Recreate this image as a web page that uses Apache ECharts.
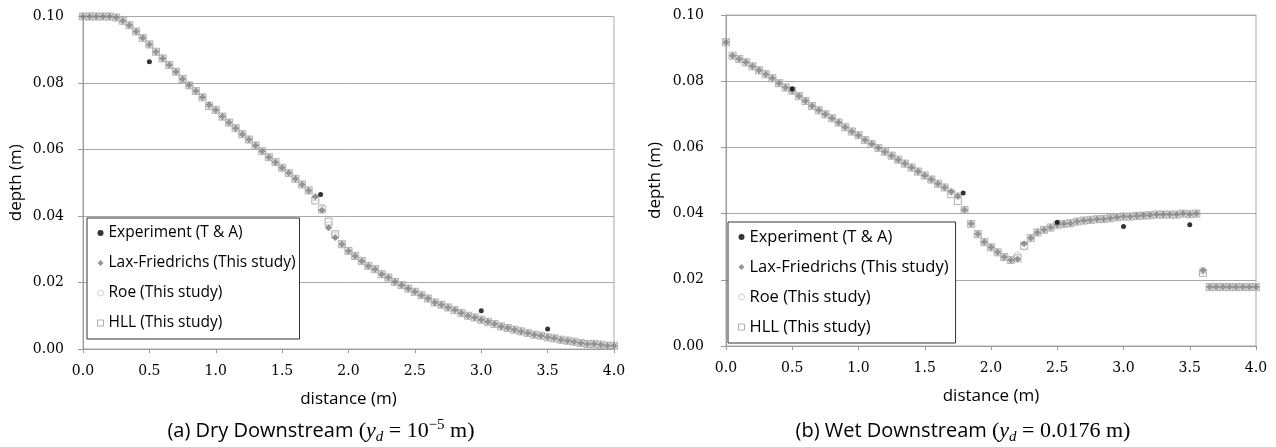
<!DOCTYPE html>
<html><head><meta charset="utf-8">
<script src="https://cdn.jsdelivr.net/npm/echarts@6/dist/echarts.min.js"></script>
<style>html,body{margin:0;padding:0;background:#fff}#c{width:1276px;height:447px}</style>
</head><body><div id="c"></div><script>
// ---------- data ----------
const distance = [0.00,0.05,0.10,0.15,0.20,0.25,0.30,0.35,0.40,0.45,0.50,0.55,0.60,0.65,0.70,0.75,0.80,0.85,0.90,0.95,
1.00,1.05,1.10,1.15,1.20,1.25,1.30,1.35,1.40,1.45,1.50,1.55,1.60,1.65,1.70,1.75,1.80,1.85,1.90,1.95,
2.00,2.05,2.10,2.15,2.20,2.25,2.30,2.35,2.40,2.45,2.50,2.55,2.60,2.65,2.70,2.75,2.80,2.85,2.90,2.95,
3.00,3.05,3.10,3.15,3.20,3.25,3.30,3.35,3.40,3.45,3.50,3.55,3.60,3.65,3.70,3.75,3.80,3.85,3.90,3.95,4.00];

// (a) dry downstream
const dryLF = [0.1000,0.1000,0.1000,0.1000,0.1000,0.0997,0.0987,0.0974,0.0955,0.0935,0.0916,0.0894,0.0874,0.0854,0.0834,0.0812,0.0793,0.0776,0.0757,0.0734,
0.0719,0.0699,0.0681,0.0664,0.0646,0.0630,0.0612,0.0595,0.0577,0.0562,0.0545,0.0529,0.0512,0.0495,0.0477,0.0458,0.0417,0.0365,0.0335,0.0315,
0.0295,0.0280,0.0265,0.0250,0.0240,0.0225,0.0215,0.0202,0.0192,0.0182,0.0172,0.0162,0.0152,0.0140,0.0133,0.0125,0.0117,0.0108,0.0100,0.0095,
0.0088,0.0082,0.0075,0.0068,0.0063,0.0058,0.0053,0.0048,0.0043,0.0040,0.0035,0.0032,0.0028,0.0025,0.0022,0.0018,0.0015,0.0015,0.0013,0.0010,0.0010];
const dryRoe = [0.1000,0.1000,0.1000,0.1000,0.1000,0.0997,0.0987,0.0974,0.0955,0.0935,0.0916,0.0894,0.0874,0.0854,0.0834,0.0812,0.0793,0.0776,0.0757,0.0734,
0.0719,0.0699,0.0681,0.0664,0.0646,0.0630,0.0612,0.0595,0.0577,0.0562,0.0545,0.0529,0.0512,0.0495,0.0477,0.0455,0.0425,0.0372,0.0340,0.0315,
0.0295,0.0280,0.0265,0.0250,0.0240,0.0225,0.0215,0.0202,0.0192,0.0182,0.0172,0.0162,0.0152,0.0140,0.0133,0.0125,0.0117,0.0108,0.0100,0.0095,
0.0088,0.0082,0.0075,0.0068,0.0063,0.0058,0.0053,0.0048,0.0043,0.0040,0.0035,0.0032,0.0028,0.0025,0.0022,0.0018,0.0015,0.0015,0.0013,0.0010,0.0010];
const dryHLL = [0.1000,0.1000,0.1000,0.1000,0.1000,0.0997,0.0987,0.0974,0.0955,0.0935,0.0916,0.0894,0.0874,0.0854,0.0834,0.0812,0.0793,0.0776,0.0757,0.0731,
0.0719,0.0699,0.0681,0.0664,0.0646,0.0630,0.0612,0.0595,0.0577,0.0562,0.0545,0.0529,0.0512,0.0495,0.0477,0.0447,0.0420,0.0383,0.0345,0.0315,
0.0295,0.0280,0.0265,0.0250,0.0240,0.0225,0.0215,0.0202,0.0192,0.0182,0.0172,0.0162,0.0152,0.0140,0.0133,0.0125,0.0117,0.0108,0.0100,0.0095,
0.0088,0.0082,0.0075,0.0068,0.0063,0.0058,0.0053,0.0048,0.0043,0.0040,0.0035,0.0032,0.0028,0.0025,0.0022,0.0018,0.0015,0.0015,0.0013,0.0010,0.0010];
const dryExpX = [0.50, 1.79, 3.00, 3.50];
const dryExpY = [0.0864, 0.0465, 0.0115, 0.0060];

// (b) wet downstream
const wetLF = [0.0918,0.0877,0.0867,0.0857,0.0845,0.0833,0.0821,0.0809,0.0794,0.0781,0.0771,0.0755,0.0740,0.0725,0.0712,0.0700,0.0688,0.0675,0.0661,0.0648,
0.0637,0.0622,0.0610,0.0598,0.0587,0.0575,0.0563,0.0551,0.0539,0.0527,0.0515,0.0503,0.0490,0.0479,0.0466,0.0453,0.0411,0.0369,0.0338,0.0314,
0.0298,0.0283,0.0269,0.0260,0.0263,0.0309,0.0326,0.0343,0.0351,0.0358,0.0366,0.0369,0.0371,0.0376,0.0379,0.0381,0.0383,0.0384,0.0386,0.0389,
0.0391,0.0391,0.0393,0.0394,0.0395,0.0397,0.0397,0.0397,0.0397,0.0400,0.0398,0.0400,0.0228,0.0178,0.0178,0.0178,0.0178,0.0178,0.0178,0.0178,0.0178];
const wetRoe = [0.0918,0.0877,0.0867,0.0857,0.0845,0.0833,0.0821,0.0809,0.0794,0.0781,0.0771,0.0755,0.0740,0.0725,0.0712,0.0700,0.0688,0.0675,0.0661,0.0648,
0.0637,0.0622,0.0610,0.0598,0.0587,0.0575,0.0563,0.0551,0.0539,0.0527,0.0515,0.0503,0.0490,0.0479,0.0466,0.0453,0.0411,0.0369,0.0338,0.0314,
0.0298,0.0283,0.0269,0.0260,0.0273,0.0300,0.0326,0.0343,0.0351,0.0358,0.0366,0.0369,0.0371,0.0376,0.0379,0.0381,0.0383,0.0384,0.0386,0.0389,
0.0391,0.0391,0.0393,0.0394,0.0395,0.0397,0.0397,0.0397,0.0397,0.0400,0.0398,0.0400,0.0228,0.0178,0.0178,0.0178,0.0178,0.0178,0.0178,0.0178,0.0178];
const wetHLL = [0.0918,0.0877,0.0867,0.0857,0.0845,0.0833,0.0821,0.0809,0.0794,0.0781,0.0771,0.0755,0.0740,0.0725,0.0712,0.0700,0.0688,0.0675,0.0661,0.0648,
0.0637,0.0622,0.0610,0.0598,0.0587,0.0575,0.0563,0.0551,0.0539,0.0527,0.0515,0.0503,0.0490,0.0479,0.0459,0.0438,0.0411,0.0369,0.0338,0.0314,
0.0298,0.0283,0.0269,0.0260,0.0265,0.0303,0.0326,0.0343,0.0351,0.0358,0.0366,0.0369,0.0371,0.0376,0.0379,0.0381,0.0383,0.0384,0.0386,0.0389,
0.0391,0.0391,0.0393,0.0394,0.0395,0.0397,0.0397,0.0397,0.0397,0.0400,0.0398,0.0400,0.0221,0.0178,0.0178,0.0178,0.0178,0.0178,0.0178,0.0178,0.0178];
const wetExpX = [0.50, 1.79, 2.50, 3.00, 3.50];
const wetExpY = [0.0777, 0.0462, 0.0374, 0.0361, 0.0366];

const xTickLabels = ['0.0','0.5','1.0','1.5','2.0','2.5','3.0','3.5','4.0'];
const yTickLabels = ['0.00','0.02','0.04','0.06','0.08','0.10'];
const seriesNames = ['Experiment (T & A)','Lax-Friedrichs (This study)','Roe (This study)','HLL (This study)'];
const xTitle = 'distance (m)';
const yTitle = 'depth (m)';

// ---------- styles ----------
const SANS = 'Open Sans';
const styles = [
  {symbol:'circle', symbolSize:5, itemStyle:{color:'#000'}},
  {symbol:'diamond', symbolSize:7, itemStyle:{color:'#7b7b7b'}},
  {symbol:'circle', symbolSize:7, itemStyle:{color:'rgba(255,255,255,0)', borderColor:'#c4c4c4', borderWidth:1}},
  {symbol:'rect', symbolSize:7, itemStyle:{color:'rgba(255,255,255,0)', borderColor:'#9c9c9c', borderWidth:1}}
];
const order = [3,2,1,0]; // draw HLL, Roe, LF, then experiment on top

function pts(xs, ys){ return xs.map((x,i)=>[x, ys[i]]); }
const panelData = [
  [pts(dryExpX,dryExpY), pts(distance,dryLF), pts(distance,dryRoe), pts(distance,dryHLL)],
  [pts(wetExpX,wetExpY), pts(distance,wetLF), pts(distance,wetRoe), pts(distance,wetHLL)]
];
const series = [];
for (let p=0;p<2;p++){
  order.forEach((k,j)=>{
    series.push(Object.assign({
      type:'scatter', name:seriesNames[k], xAxisIndex:p, yAxisIndex:p,
      data:panelData[p][k], z: 2+j, silent:true, animation:false
    }, JSON.parse(JSON.stringify(styles[k]))));
  });
}

const grids = [
  {left:83, top:16.5, width:531, height:332.5},
  {left:726, top:15, width:530, height:331}
];
function xAxis(i){
  return {type:'value', gridIndex:i, min:0, max:4, interval:0.5,
    axisLine:{show:true, lineStyle:{color:'#9a9a9a', width:1}},
    axisTick:{show:true, length:4, lineStyle:{color:'#9a9a9a'}},
    splitLine:{show:false},
    axisLabel:{margin:15, color:'#000', fontFamily:'DejaVu Serif', fontSize:14,
      formatter:v=>xTickLabels[Math.round(v/0.5)]},
    name:xTitle, nameLocation:'middle', nameGap:42,
    nameTextStyle:{fontFamily:SANS, fontSize:17, color:'#000'}};
}
function yAxis(i){
  return {type:'value', gridIndex:i, min:0, max:0.1, interval:0.02,
    axisLine:{show:true, lineStyle:{color:'#9a9a9a', width:1}},
    axisTick:{show:true, length:5, lineStyle:{color:'#9a9a9a'}},
    splitLine:{show:true, lineStyle:{color:'#a8a8a8', width:1}},
    axisLabel:{margin:i===0?19:22, color:'#000', fontFamily:'DejaVu Serif', fontSize:14,
      formatter:v=>yTickLabels[Math.round(v/0.02)]},
    name:yTitle, nameLocation:'middle', nameGap:i===0?58:62,
    nameTextStyle:{fontFamily:SANS, fontSize:17, color:'#000'}};
}
function legend(i, left, top, fs, padR){
  return {show:true, orient:'vertical', left:left, top:top,
    data: seriesNames.map((n,k)=>({name:n, icon:styles[k].symbol, itemStyle:styles[k].itemStyle})),
    itemWidth:6, itemHeight:6, itemGap:10,
    padding:[5,padR,6,10], borderColor:'#333', borderWidth:1, backgroundColor:'#fff',
    textStyle:{fontFamily:SANS, fontSize:fs, color:'#000', lineHeight:20},
    selectedMode:false};
}
function caption(label, left, top){
  const base = {color:'#000', fontWeight:'normal', lineHeight:27};
  return {text:label, left:left, top:top, textAlign:'center',
    textStyle:{fontWeight:'normal', rich:{
      s:Object.assign({fontFamily:SANS, fontSize:20}, base),
      m:Object.assign({fontFamily:'Liberation Serif', fontSize:22}, base),
      i:Object.assign({fontFamily:'Liberation Serif', fontStyle:'italic', fontSize:22}, base),
      sub:{fontFamily:'Liberation Serif', fontStyle:'italic', fontWeight:'normal', fontSize:15, color:'#000', lineHeight:16, verticalAlign:'bottom'},
      sup:{fontFamily:'Liberation Serif', fontWeight:'normal', fontSize:15, color:'#000', lineHeight:13, verticalAlign:'top'}
    }}};
}
const chart = echarts.init(document.getElementById('c'), null, {renderer:'canvas'});
chart.setOption({
  animation:false,
  backgroundColor:'#fff',
  grid: grids.map(g=>Object.assign({show:true, borderColor:'#a8a8a8', borderWidth:1, backgroundColor:'transparent'}, g)),
  xAxis:[xAxis(0), xAxis(1)],
  yAxis:[yAxis(0), yAxis(1)],
  legend:[legend(0, 87, 218, 15.5, 4), legend(1, 728, 222, 16.5, 7)],
  title:[
    caption('{s|(a) Dry Downstream }{m|(}{i|y}{sub|d}{m| = 10}{sup|−5}{m| m)}', 316, 413),
    caption('{s|(b) Wet Downstream }{m|(}{i|y}{sub|d}{m| = 0.0176 m)}', 958, 413)
  ],
  series: series
});
</script></body></html>
